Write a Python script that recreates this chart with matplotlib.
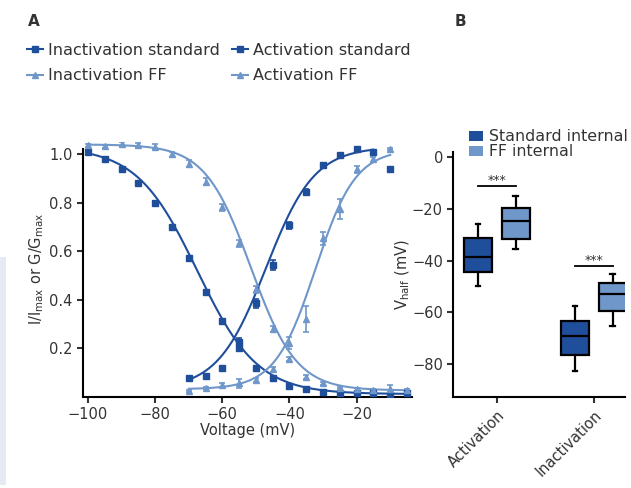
import numpy as np
import matplotlib
matplotlib.use("Agg")
import matplotlib.pyplot as plt
from matplotlib.patches import Rectangle, Patch
from matplotlib.lines import Line2D

# =====================================================
# DADOS - painel A (curvas I/Imax e G/Gmax)
# =====================================================

v_inact = np.array([-100, -95, -90, -85, -80, -75, -70, -65, -60, -55, -50,
                    -45, -40, -35, -30, -25, -20, -15, -10, -5])
v_act = np.array([-70, -65, -60, -55, -50, -45, -40, -35, -30, -25, -20,
                  -15, -10])

inact_std = np.array([1.01, 0.98, 0.94, 0.88, 0.80, 0.70, 0.57, 0.43, 0.31,
                      0.20, 0.117, 0.076, 0.043, 0.030, 0.020, 0.015, 0.013,
                      0.013, 0.005, 0.015])
inact_std_err = np.array([0.005, 0.005, 0.005, 0.006, 0.008, 0.008, 0.01,
                          0.01, 0.01, 0.01, 0.008, 0.006, 0.005, 0.004, 0.004,
                          0.004, 0.004, 0.004, 0.004, 0.004])

inact_ff = np.array([1.037, 1.033, 1.04, 1.037, 1.03, 1.0, 0.96, 0.886, 0.78,
                     0.632, 0.442, 0.278, 0.155, 0.079, 0.054, 0.034, 0.030,
                     0.027, 0.030, 0.025])
inact_ff_err = np.array([0.006, 0.006, 0.008, 0.01, 0.01, 0.01, 0.015, 0.015,
                         0.015, 0.015, 0.015, 0.012, 0.01, 0.008, 0.006,
                         0.005, 0.006, 0.006, 0.018, 0.006])

act_std = np.array([0.076, 0.085, 0.117, 0.226, 0.384, 0.542, 0.707, 0.845,
                    0.957, 0.995, 1.02, 1.007, 0.937])
act_std_err = np.array([0.004, 0.004, 0.005, 0.015, 0.02, 0.02, 0.015, 0.012,
                        0.008, 0.006, 0.005, 0.005, 0.004])

act_ff = np.array([0.024, 0.034, 0.047, 0.054, 0.068, 0.112, 0.219, 0.32,
                   0.652, 0.773, 0.937, 0.978, 1.02])
act_ff_err = np.array([0.004, 0.004, 0.008, 0.02, 0.01, 0.01, 0.025, 0.055,
                       0.025, 0.04, 0.015, 0.012, 0.005])

# parametros do ajuste de Boltzmann (vhalf, k, topo, base, vmin, vmax)
fit_inact_std = (-67.5, 9.0, 1.03, 0.01, -100, -5)
fit_inact_ff = (-51.5, 6.8, 1.04, 0.025, -100, -5)
fit_act_std = (-47.0, 7.2, 1.03, 0.03, -70, -15)
fit_act_ff = (-32.3, 6.0, 1.02, 0.03, -70, -10)

# =====================================================
# DADOS - painel B (Vhalf)
# =====================================================

grupos = ["Activation", "Inactivation"]
# (whisker inferior, Q1, mediana, Q3, whisker superior)
box_std = [(-49.8, -44.6, -38.5, -31.2, -25.9),
           (-82.7, -76.3, -69.1, -63.2, -57.4)]
box_ff = [(-35.7, -31.9, -24.9, -19.8, -15.3),
          (-65.4, -59.6, -52.9, -48.8, -45.3)]
sig_y = [-11.1, -42.1]

# =====================================================
# ESTILO
# =====================================================

escuro = "#1f4e9b"
claro = "#7097c9"
plt.rcParams['font.family'] = ['DejaVu Sans']
plt.rcParams['font.size'] = 10.5
plt.rcParams['text.color'] = '#333333'
plt.rcParams['xtick.color'] = '#333333'
plt.rcParams['ytick.color'] = '#333333'
plt.rcParams['axes.labelcolor'] = '#333333'


def boltz(params, decresce):
    vh, k, topo, base, vmin, vmax = params
    v = np.linspace(vmin, vmax, 300)
    if decresce:
        g = base + (topo - base) / (1 + np.exp((v - vh) / k))
    else:
        g = base + (topo - base) / (1 + np.exp((vh - v) / k))
    return v, g


fig = plt.figure(figsize=(6.31, 4.88), dpi=100)

# faixa cinza-azulada no canto esquerdo
fig.patches.append(Rectangle((0, 0.006), 0.0095, 0.467, transform=fig.transFigure,
                             facecolor='#e6eaf4', edgecolor='none'))

# =====================================================
# PAINEL A
# =====================================================

ax = fig.add_axes([0.1315, 0.1875, 0.5215, 0.5215])

series = [
    (v_inact, inact_std, inact_std_err, fit_inact_std, True, escuro, 's'),
    (v_inact, inact_ff, inact_ff_err, fit_inact_ff, True, claro, '^'),
    (v_act, act_std, act_std_err, fit_act_std, False, escuro, 's'),
    (v_act, act_ff, act_ff_err, fit_act_ff, False, claro, '^'),
]

for v, y, e, fit, dec, cor, mk in series:
    vv, gg = boltz(fit, dec)
    ax.plot(vv, gg, color=cor, lw=1.5, zorder=2)
    ax.errorbar(v, y, yerr=e, fmt=mk, color=cor, ms=5, capsize=2.5,
                elinewidth=1.2, capthick=1.2, zorder=3)

ax.set_xlim(-101.5, -3.5)
ax.set_ylim(0, 1.05)
ax.set_xticks([-100, -80, -60, -40, -20])
ax.set_yticks([0.2, 0.4, 0.6, 0.8, 1.0])
ax.set_yticklabels(['0.2', '0.4', '0.6', '0.8', '1.0'])
ax.spines['top'].set_visible(False)
ax.spines['right'].set_visible(False)
ax.spines['left'].set_bounds(0, 1.02)
for s in ['left', 'bottom']:
    ax.spines[s].set_linewidth(1.5)
    ax.spines[s].set_color('black')
ax.tick_params(width=1.5, length=4, labelsize=10.5)
ax.set_xlabel("Voltage (mV)", labelpad=1)
ax.set_ylabel(r"I/I$_{\mathregular{max}}$ or G/G$_{\mathregular{max}}$", labelpad=2)

# legenda do painel A
handles = [
    Line2D([], [], color=escuro, marker='s', ms=5, lw=1.5),
    Line2D([], [], color=claro, marker='^', ms=5, lw=1.5),
    Line2D([], [], color=escuro, marker='s', ms=5, lw=1.5),
    Line2D([], [], color=claro, marker='^', ms=5, lw=1.5),
]
labels = ["Inactivation standard", "Inactivation FF",
          "Activation standard", "Activation FF"]
fig.legend(handles, labels, loc='upper left', bbox_to_anchor=(0.043, 0.912),
           ncol=2, frameon=False, fontsize=11.6, handlelength=1.0,
           handletextpad=0.3, columnspacing=0.75, labelspacing=0.65,
           borderaxespad=0, borderpad=0)

fig.text(0.044, 0.955, "A", fontsize=11, fontweight='bold', va='center')
fig.text(0.72, 0.955, "B", fontsize=11, fontweight='bold', va='center')

# =====================================================
# PAINEL B
# =====================================================

bx = fig.add_axes([0.7184, 0.187, 0.2721, 0.5025])

pos = np.arange(len(grupos))
desl = 0.195
larg = 0.29

stats = []
posicoes = []
cores = []
for i in range(len(grupos)):
    for caixa, d, cor in [(box_std[i], -desl, escuro), (box_ff[i], desl, claro)]:
        wl, q1, med, q3, wh = caixa
        stats.append(dict(whislo=wl, q1=q1, med=med, q3=q3, whishi=wh, fliers=[]))
        posicoes.append(pos[i] + d)
        cores.append(cor)

bp = bx.bxp(stats, positions=posicoes, widths=larg, patch_artist=True,
            showfliers=False, manage_ticks=False,
            boxprops=dict(linewidth=1.6, edgecolor='black'),
            medianprops=dict(color='black', linewidth=1.6),
            whiskerprops=dict(color='black', linewidth=1.6),
            capprops=dict(color='black', linewidth=1.6))
for patch, cor in zip(bp['boxes'], cores):
    patch.set_facecolor(cor)
for cap in bp['caps']:
    xd = cap.get_xdata()
    c = (xd[0] + xd[1]) / 2
    cap.set_xdata([c - 0.025, c + 0.025])

# barras de significancia
for i in range(len(grupos)):
    x0, x1 = pos[i] - desl, pos[i] + desl
    bx.plot([x0, x1], [sig_y[i], sig_y[i]], color='black', lw=1.3)
    bx.text((x0 + x1) / 2, sig_y[i] - 0.5, "***", ha='center', va='bottom',
            fontsize=9)

bx.set_xlim(-0.45, 1.32)
bx.set_ylim(-92.5, 2)
bx.set_yticks([0, -20, -40, -60, -80])
bx.set_xticks(pos)
bx.set_xticklabels(grupos, rotation=45, ha='right', rotation_mode='anchor')
bx.spines['top'].set_visible(False)
bx.spines['right'].set_visible(False)
for s in ['left', 'bottom']:
    bx.spines[s].set_linewidth(1.5)
    bx.spines[s].set_color('black')
bx.tick_params(width=1.5, length=4, labelsize=10.5)
bx.set_ylabel(r"V$_{\mathregular{half}}$ (mV)", labelpad=0)

bx.legend([Patch(facecolor=escuro), Patch(facecolor=claro)],
          ["Standard internal", "FF internal"], loc='upper left',
          bbox_to_anchor=(0.09, 1.09), frameon=False, fontsize=11.4,
          handlelength=0.9, handleheight=0.6, handletextpad=0.4,
          labelspacing=0.0, borderaxespad=0, borderpad=0)

fig.savefig("out.png", dpi=100)
